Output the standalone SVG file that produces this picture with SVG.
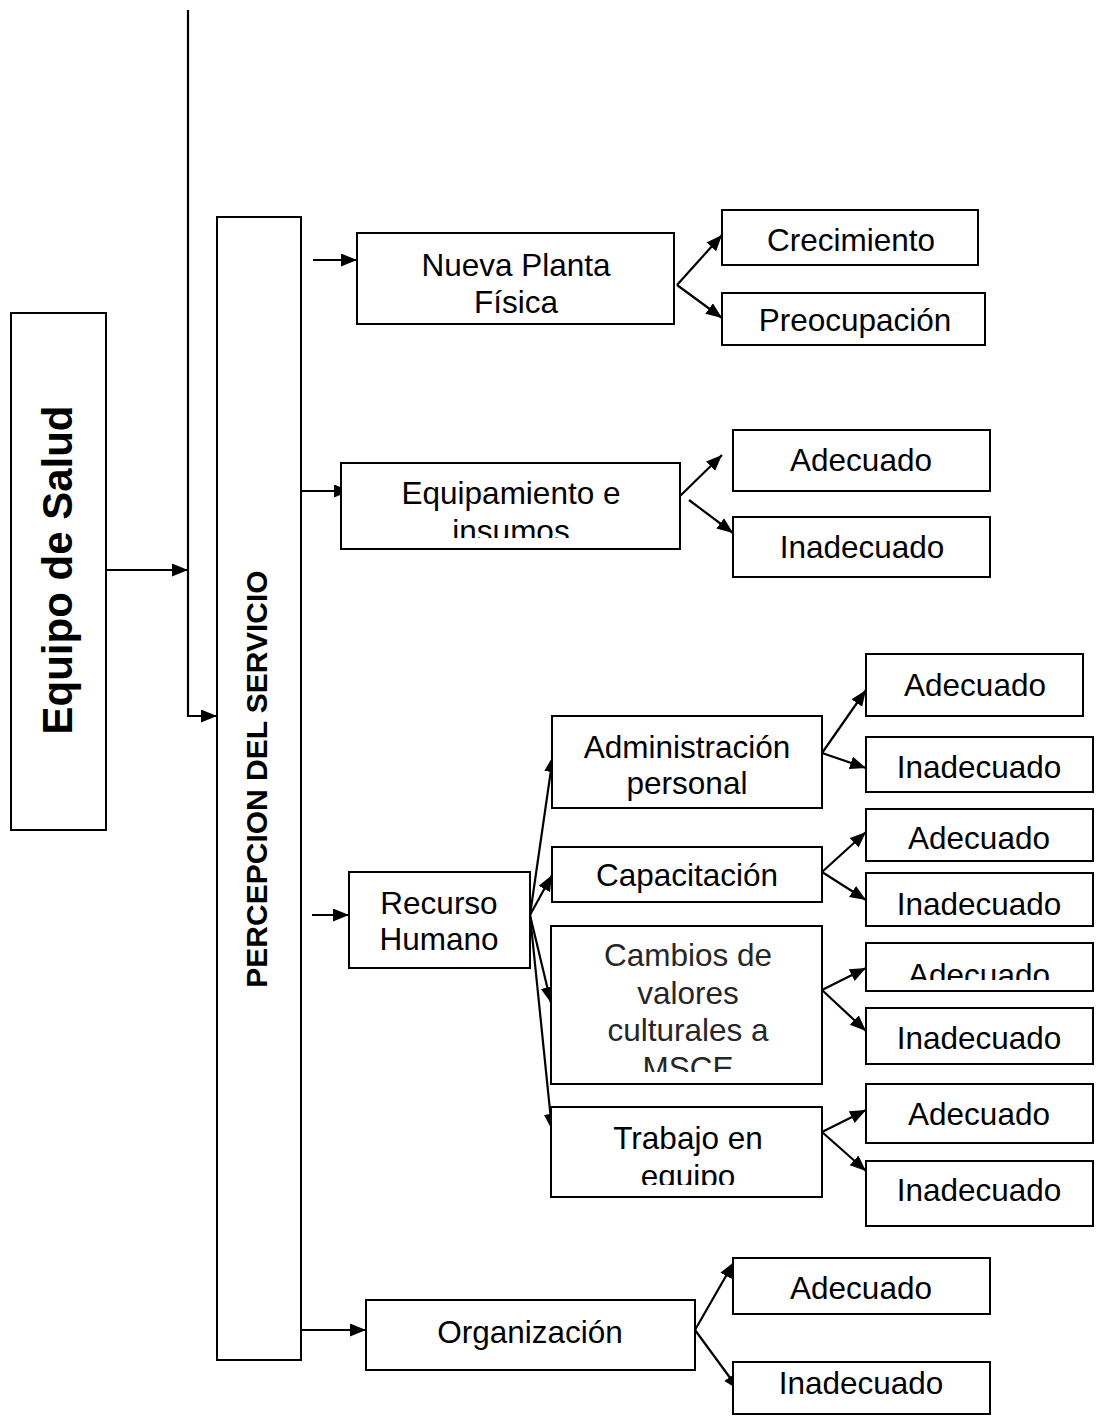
<svg xmlns="http://www.w3.org/2000/svg" width="1096" height="1416" viewBox="0 0 1096 1416">
  <style>
    .box { fill: #ffffff; stroke: #000000; stroke-width: 2; }
    .lbl { font-family: "Liberation Sans", Arial, sans-serif; font-size: 31.5px; fill: #000000; text-anchor: middle; }
    .lbl-soft { fill: #262626; }
    .title { font-family: "Liberation Sans", Arial, sans-serif; font-weight: bold; fill: #000000; text-anchor: middle; }
    .conn { fill: none; stroke: #000000; stroke-width: 2.2; marker-end: url(#arrow); }
  </style>
  <defs>
    <marker id="arrow" markerUnits="userSpaceOnUse" markerWidth="17" markerHeight="14" refX="16" refY="6.5" orient="auto">
      <path d="M0,0 L16,6.5 L0,13 z" fill="#000000"/>
    </marker>
    <clipPath id="clip-insumos"><rect x="341" y="463" width="339" height="75"/></clipPath>
    <clipPath id="clip-adecuado4"><rect x="866" y="943" width="227" height="37"/></clipPath>
    <clipPath id="clip-msce"><rect x="551" y="926" width="271" height="146"/></clipPath>
    <clipPath id="clip-equipo"><rect x="551" y="1107" width="271" height="78"/></clipPath>
  </defs>

  <rect x="0" y="0" width="1096" height="1416" fill="#ffffff"/>

  <!-- connectors -->
  <g id="connectors">
    <path class="conn" d="M188,10 L188,716 L217,716"/>
    <path class="conn" d="M106,570 L188,570"/>
    <path class="conn" d="M313,260 L357,260"/>
    <path class="conn" d="M677,285 L722,235"/>
    <path class="conn" d="M677,285 L722,318"/>
    <path class="conn" d="M302,491 L350,491"/>
    <path class="conn" d="M678,498 L722,455"/>
    <path class="conn" d="M689,500 L733,533"/>
    <path class="conn" d="M312,915 L349,915"/>
    <path class="conn" d="M530,915 L553,756"/>
    <path class="conn" d="M530,915 L552,875"/>
    <path class="conn" d="M530,915 L551,1003"/>
    <path class="conn" d="M530,915 L552,1130"/>
    <path class="conn" d="M822,753 L866,690"/>
    <path class="conn" d="M822,753 L866,768"/>
    <path class="conn" d="M822,872 L866,832"/>
    <path class="conn" d="M822,872 L866,900"/>
    <path class="conn" d="M822,990 L866,968"/>
    <path class="conn" d="M822,990 L866,1031"/>
    <path class="conn" d="M822,1132 L866,1110"/>
    <path class="conn" d="M822,1132 L866,1171"/>
    <path class="conn" d="M302,1330 L366,1330"/>
    <path class="conn" d="M695,1330 L734,1262"/>
    <path class="conn" d="M695,1330 L739,1390"/>
  </g>

  <!-- left column -->
  <g id="equipo-salud">
    <rect class="box" x="11" y="313" width="95" height="517"/>
    <text class="title" font-size="42" transform="translate(72,570) rotate(-90)">Equipo de Salud</text>
  </g>
  <g id="percepcion">
    <rect class="box" x="217" y="217" width="84" height="1143"/>
    <text class="title" font-size="30" transform="translate(267,779) rotate(-90)">PERCEPCION DEL SERVICIO</text>
  </g>

  <!-- Nueva Planta Física -->
  <g id="nueva-planta">
    <rect class="box" x="357" y="233" width="317" height="91"/>
    <text class="lbl" x="516" y="276">Nueva Planta</text>
    <text class="lbl" x="516" y="313">Física</text>
  </g>
  <g id="crecimiento">
    <rect class="box" x="722" y="210" width="256" height="55"/>
    <text class="lbl" x="851" y="251">Crecimiento</text>
  </g>
  <g id="preocupacion">
    <rect class="box" x="722" y="293" width="263" height="52"/>
    <text class="lbl" x="855" y="331">Preocupación</text>
  </g>

  <!-- Equipamiento e insumos -->
  <g id="equipamiento">
    <rect class="box" x="341" y="463" width="339" height="86"/>
    <text class="lbl" x="511" y="504">Equipamiento e</text>
    <text class="lbl" x="511" y="542" clip-path="url(#clip-insumos)">insumos</text>
  </g>
  <g id="equip-adecuado">
    <rect class="box" x="733" y="430" width="257" height="61"/>
    <text class="lbl" x="861" y="471">Adecuado</text>
  </g>
  <g id="equip-inadecuado">
    <rect class="box" x="733" y="517" width="257" height="60"/>
    <text class="lbl" x="862" y="558">Inadecuado</text>
  </g>

  <!-- Recurso Humano -->
  <g id="recurso-humano">
    <rect class="box" x="349" y="872" width="181" height="96"/>
    <text class="lbl" x="439" y="914">Recurso</text>
    <text class="lbl" x="439" y="950">Humano</text>
  </g>
  <g id="administracion">
    <rect class="box" x="552" y="716" width="270" height="92"/>
    <text class="lbl" x="687" y="758">Administración</text>
    <text class="lbl" x="687" y="794">personal</text>
  </g>
  <g id="capacitacion">
    <rect class="box" x="552" y="847" width="270" height="55"/>
    <text class="lbl" x="687" y="886">Capacitación</text>
  </g>
  <g id="cambios-valores">
    <rect class="box" x="551" y="926" width="271" height="158"/>
    <g clip-path="url(#clip-msce)">
      <text class="lbl lbl-soft" x="688" y="966">Cambios de</text>
      <text class="lbl lbl-soft" x="688" y="1004">valores</text>
      <text class="lbl lbl-soft" x="688" y="1041">culturales a</text>
      <text class="lbl lbl-soft" x="688" y="1079">MSCE</text>
    </g>
  </g>
  <g id="trabajo-equipo">
    <rect class="box" x="551" y="1107" width="271" height="90"/>
    <text class="lbl" x="688" y="1149">Trabajo en</text>
    <text class="lbl" x="688" y="1187" clip-path="url(#clip-equipo)">equipo</text>
  </g>

  <g id="admin-adecuado">
    <rect class="box" x="866" y="654" width="217" height="62"/>
    <text class="lbl" x="975" y="696">Adecuado</text>
  </g>
  <g id="admin-inadecuado">
    <rect class="box" x="866" y="737" width="227" height="55"/>
    <text class="lbl" x="979" y="778">Inadecuado</text>
  </g>
  <g id="capac-adecuado">
    <rect class="box" x="866" y="809" width="227" height="52"/>
    <text class="lbl" x="979" y="849">Adecuado</text>
  </g>
  <g id="capac-inadecuado">
    <rect class="box" x="866" y="873" width="227" height="53"/>
    <text class="lbl" x="979" y="915">Inadecuado</text>
  </g>
  <g id="cambios-adecuado">
    <rect class="box" x="866" y="943" width="227" height="48"/>
    <text class="lbl" x="979" y="986" clip-path="url(#clip-adecuado4)">Adecuado</text>
  </g>
  <g id="cambios-inadecuado">
    <rect class="box" x="866" y="1008" width="227" height="56"/>
    <text class="lbl" x="979" y="1049">Inadecuado</text>
  </g>
  <g id="trabajo-adecuado">
    <rect class="box" x="866" y="1084" width="227" height="59"/>
    <text class="lbl" x="979" y="1125">Adecuado</text>
  </g>
  <g id="trabajo-inadecuado">
    <rect class="box" x="866" y="1161" width="227" height="65"/>
    <text class="lbl" x="979" y="1201">Inadecuado</text>
  </g>

  <!-- Organización -->
  <g id="organizacion">
    <rect class="box" x="366" y="1300" width="329" height="70"/>
    <text class="lbl" x="530" y="1343">Organización</text>
  </g>
  <g id="org-adecuado">
    <rect class="box" x="733" y="1258" width="257" height="56"/>
    <text class="lbl" x="861" y="1299">Adecuado</text>
  </g>
  <g id="org-inadecuado">
    <rect class="box" x="733" y="1362" width="257" height="52"/>
    <text class="lbl" x="861" y="1394">Inadecuado</text>
  </g>
</svg>
